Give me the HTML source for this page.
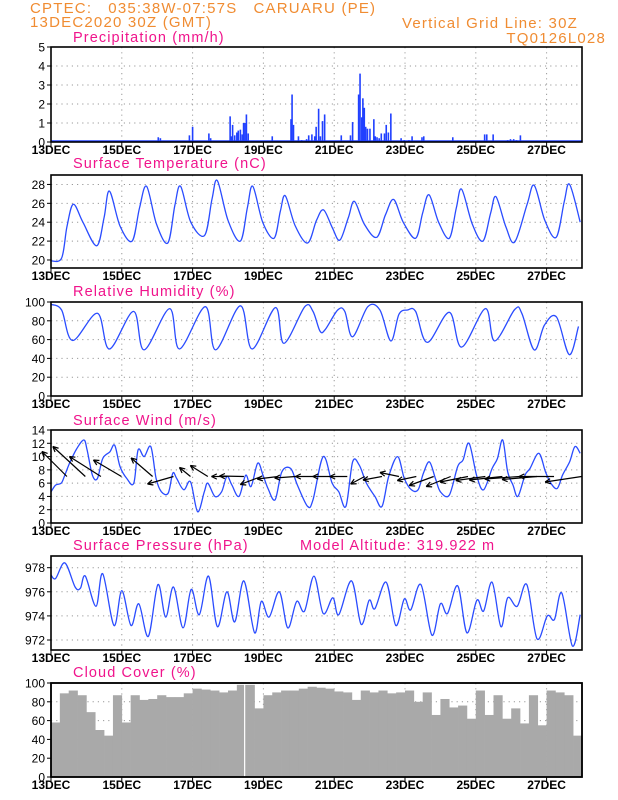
<!DOCTYPE html>
<html><head><meta charset="utf-8">
<style>
html,body{margin:0;padding:0;background:#fff;}
svg{display:block;font-family:"Liberation Sans",sans-serif;}
.hdr{fill:#f08c32;font-size:15px;letter-spacing:1.2px;}
.ttl{fill:#f0148c;font-size:14.5px;letter-spacing:1.1px;}
.tick{fill:#000;font-size:12px;}
</style></head>
<body>
<svg id="chart" width="618" height="800" viewBox="0 0 618 800" xmlns="http://www.w3.org/2000/svg">
<text class="hdr" x="30" y="13" xml:space="preserve">CPTEC:   035:38W-07:57S   CARUARU (PE)</text>
<text class="hdr" x="30" y="27">13DEC2020 30Z (GMT)</text>
<text class="hdr" x="578" y="28" text-anchor="end">Vertical Grid Line: 30Z</text>
<text class="hdr" x="606" y="43" text-anchor="end">TQ0126L028</text>
<text class="ttl" x="73" y="42">Precipitation (mm/h)</text>
<text class="ttl" x="73" y="168">Surface Temperature (nC)</text>
<text class="ttl" x="73" y="296">Relative Humidity (%)</text>
<text class="ttl" x="73" y="425">Surface Wind (m/s)</text>
<text class="ttl" x="73" y="550">Surface Pressure (hPa)</text>
<text class="ttl" x="300" y="550">Model Altitude: 319.922 m</text>
<text class="ttl" x="73" y="677">Cloud Cover (%)</text>
</svg>
<script>
const dayTicks=[0,2,4,6,8,10,12,14];
const dayLabels=["13DEC","15DEC","17DEC","19DEC","21DEC","23DEC","25DEC","27DEC"];

const precipDays=[3.03,3.09,3.91,4.0,4.46,4.51,5.06,5.09,5.13,5.19,5.25,5.29,5.35,5.40,5.44,5.48,5.52,5.57,6.25,6.78,6.81,6.85,6.99,7.08,7.22,7.28,7.37,7.45,7.49,7.56,7.61,7.67,7.73,8.20,8.46,8.52,8.69,8.73,8.78,8.81,8.85,8.89,8.94,9.01,9.12,9.16,9.21,9.27,9.33,9.42,9.47,9.53,9.60,9.89,9.98,10.11,10.20,10.48,10.53,11.35,12.25,12.31,12.49,12.90,12.98,13.07,13.15,13.26];
const precipVals=[0.25,0.2,0.35,0.8,0.45,0.2,1.35,0.3,0.9,0.35,0.5,0.6,0.65,0.4,1.0,1.0,1.45,0.45,0.3,1.2,2.5,0.9,0.3,0.1,0.15,0.35,0.4,0.3,0.8,1.75,0.3,1.1,1.45,0.35,0.35,1.05,2.5,3.6,1.3,2.3,1.8,0.8,0.7,0.7,1.2,0.3,0.25,0.2,0.45,0.45,0.9,0.5,1.5,0.2,0.1,0.1,0.3,0.25,0.3,0.25,0.4,0.4,0.4,0.1,0.15,0.15,0.1,0.35];

const tempDays=[0,0.3,0.45,0.63,0.9,1.29,1.5,1.65,1.95,2.29,2.5,2.7,2.98,3.3,3.5,3.66,3.95,4.34,4.55,4.7,5.0,5.35,5.55,5.7,5.98,6.3,6.48,6.62,6.9,7.25,7.5,7.7,7.95,8.16,8.4,8.57,8.85,9.2,9.45,9.68,9.95,10.3,10.5,10.68,10.95,11.25,11.45,11.6,11.9,12.2,12.42,12.57,12.85,13.1,13.45,13.65,13.95,14.27,14.5,14.65,14.95];
const tempVals=[19.9,20.2,23.5,25.9,24.0,21.5,24.5,27.3,23.6,22.0,25.5,27.8,23.8,21.8,25.8,27.8,24.0,22.6,26.5,28.4,24.2,22.0,25.6,27.8,24.0,22.3,25.2,26.8,23.6,21.8,24.2,25.3,23.4,22.1,24.5,26.2,23.8,22.4,24.8,26.4,24.0,22.3,25.0,26.9,24.0,22.3,25.5,27.5,23.8,22.0,25.0,26.7,23.5,21.9,25.9,27.9,24.2,22.4,26.2,28.0,24.0];

const rhDays=[0,0.3,0.61,1.31,1.65,2.33,2.63,3.35,3.63,4.36,4.65,5.35,5.68,6.34,6.58,7.17,7.4,7.6,7.75,8.1,8.3,8.52,8.95,9.29,9.6,9.83,10.07,10.3,10.63,11.25,11.6,12.27,12.53,13.1,13.3,13.65,13.94,14.28,14.64,14.9];
const rhVals=[97.5,91.5,59,88,50,90,49,93,50,95,49,96,50,94,56,95,90,69,71,91.5,90,63,95,91.5,58.5,87,91.5,90,57,89,52,93,58.5,92,88,49,75.5,84,44,74];

const windDays=[0,0.13,0.29,0.39,0.54,0.73,0.93,1.02,1.17,1.31,1.46,1.66,1.80,1.95,2.14,2.34,2.46,2.63,2.82,2.97,3.12,3.31,3.44,3.55,3.75,3.94,4.14,4.33,4.43,4.63,4.82,4.97,5.11,5.31,5.50,5.65,5.84,5.99,6.13,6.33,6.52,6.77,6.96,7.25,7.40,7.69,7.94,8.13,8.33,8.52,8.71,8.91,9.15,9.35,9.54,9.79,9.98,10.18,10.37,10.52,10.69,10.86,11.0,11.25,11.49,11.64,11.81,12.03,12.22,12.46,12.61,12.76,12.9,13.05,13.19,13.39,13.53,13.78,13.97,14.12,14.3,14.45,14.65,14.8,14.95];
const windVals=[4.7,5.7,6.0,7.2,9.2,11.2,12.5,11,7.2,6.7,9.7,10.7,11.7,8.5,6.7,6.0,11,10,11.5,6.7,4.7,4.5,7.5,6.7,5.0,6.2,1.7,4.7,6.0,4.0,4.7,7.0,5.7,4.0,7.2,5.5,9.0,7.2,5.2,3.5,7.7,8.2,5.7,2.5,3.5,10,6.0,4.7,2.5,9.2,8.7,6.0,4.0,2.5,7.0,10,6.7,5.0,5.0,7.5,9.2,6.7,4.7,4.2,8.5,9.5,12.0,7.0,5.0,8.2,9.7,12.5,7.7,5.7,4.0,7.2,8.2,10.5,7.7,6.0,5.2,7.2,9.2,11.5,10.5];

const arrowDays=[0.45,0.97,1.41,1.99,2.87,3.46,3.94,4.43,4.97,5.45,5.94,6.42,6.91,7.4,7.89,8.37,8.86,9.35,9.83,10.32,10.81,11.29,11.78,12.27,12.75,13.24,13.73,14.21,14.99];
const arrowU=[-5,-6.5,-6.3,-5.6,-4.3,-5.2,-2.2,-3.5,-3.1,-4.9,-4.2,-4.2,-4.2,-3.5,-3.5,-3.5,-2.8,-3.8,-3.8,-3.8,-4.9,-4.9,-5.6,-5.9,-6.6,-7.0,-7.0,-7.0,-7.3];
const arrowV=[5,6.0,4.0,3.3,3.7,-1.5,1.8,2.2,0,0.1,-1.6,-0.5,-0.3,0,0,0,-1.5,-0.7,0.8,-0.8,-1.8,-2.0,-1.1,-0.8,-0.7,-0.5,-0.6,0,-1.1];

const presDays=[0,0.13,0.39,0.68,0.83,0.97,1.27,1.46,1.78,2.0,2.26,2.48,2.75,3.02,3.24,3.46,3.73,3.96,4.19,4.45,4.70,4.97,5.19,5.45,5.75,5.94,6.16,6.45,6.69,6.94,7.16,7.43,7.69,7.96,8.13,8.49,8.76,8.99,9.15,9.47,9.74,9.98,10.16,10.45,10.76,11.0,11.2,11.49,11.75,12.03,12.22,12.46,12.71,12.9,13.17,13.44,13.73,14.02,14.22,14.43,14.73,14.95];
const presVals=[977.4,977.1,978.4,976.4,976.3,977.3,974.8,977.5,973.2,976.1,973.2,975.0,972.3,976.6,973.9,976.4,973.0,976.2,974.1,977.3,973.1,976.0,973.5,976.9,972.6,975.2,973.9,976.0,973.0,975.2,974.4,977.3,974.2,975.5,974.1,976.9,973.3,975.3,974.6,976.8,973.2,975.4,974.5,976.6,972.4,975.0,974.2,976.5,972.6,975.3,974.4,976.8,973.1,975.5,974.8,976.6,972.1,974.0,973.7,975.9,971.5,974.1];

const cloudDays=[0,0.25,0.5,0.75,1.0,1.25,1.5,1.75,2.0,2.25,2.5,2.75,3.0,3.25,3.5,3.75,4.0,4.25,4.5,4.75,5.0,5.25,5.5,5.75,6.0,6.25,6.5,6.75,7.0,7.25,7.5,7.75,8.0,8.25,8.5,8.75,9.0,9.25,9.5,9.75,10.0,10.25,10.5,10.75,11.0,11.25,11.5,11.75,12.0,12.25,12.5,12.75,13.0,13.25,13.5,13.75,14.0,14.25,14.5,14.75];
const cloudVals=[58,89,92,87,69,50,44,87,58,87,82,83,87,85,85,89,94,93,92,90,92,98,98,73,87,90,92,92,94,96,95,94,91,90,82,92,90,92,89,90,92,80,90,66,83,74,76,62,92,66,87,62,73,57,87,55,92,90,87,44];

const svg=document.getElementById('chart');
const NS='http://www.w3.org/2000/svg';
const X0=51,X1=582,NDAYS=15;
function xs(d){return X0+(X1-X0)*d/NDAYS;}
function mk(tag,attrs,parent){const e=document.createElementNS(NS,tag);for(const k in attrs)e.setAttribute(k,attrs[k]);(parent||svg).appendChild(e);return e;}
function smooth(pts){let d='M'+pts[0][0].toFixed(1)+','+pts[0][1].toFixed(1);
 for(let i=0;i<pts.length-1;i++){const p0=pts[Math.max(0,i-1)],p1=pts[i],p2=pts[i+1],p3=pts[Math.min(pts.length-1,i+2)];
  const c1x=p1[0]+(p2[0]-p0[0])/6,c1y=p1[1]+(p2[1]-p0[1])/6,c2x=p2[0]-(p3[0]-p1[0])/6,c2y=p2[1]-(p3[1]-p1[1])/6;
  d+=' C'+c1x.toFixed(1)+','+c1y.toFixed(1)+' '+c2x.toFixed(1)+','+c2y.toFixed(1)+' '+p2[0].toFixed(1)+','+p2[1].toFixed(1);}
 return d;}

function panel(name,top,bot,ymin,ymax,ticks){
 const ys=v=>bot-(bot-top)*(v-ymin)/(ymax-ymin);
 const g=mk('g',{});
 
 
 ticks.forEach(t=>{
  if(t>ymin&&t<ymax){const gl=mk('line',{x1:X0,x2:X1,y1:ys(t),y2:ys(t),stroke:'#999','stroke-width':1,'stroke-dasharray':'1.2,4'},g);
   
   }
  const tl=mk('text',{x:X0-6,y:ys(t)+4.5,'text-anchor':'end',class:'tick'},g);tl.textContent=t;
  
  
  mk('line',{x1:X0-4,x2:X0,y1:ys(t),y2:ys(t),stroke:'#000','stroke-width':1},g);
 });
 dayTicks.forEach((d,i)=>{
  if(d>0){const vl=mk('line',{x1:xs(d),x2:xs(d),y1:top,y2:bot,stroke:'#999','stroke-width':1,'stroke-dasharray':'1.2,4'},g);
   
   }
  mk('line',{x1:xs(d),x2:xs(d),y1:bot,y2:bot+4,stroke:'#000','stroke-width':1},g);
  const lb=mk('text',{x:xs(d),y:bot+12,'text-anchor':'middle',class:'tick','font-weight':'bold','font-size':'11.5'},g);lb.textContent=dayLabels[i];
  
  
 });
 const fr=mk('rect',{x:X0,y:top,width:X1-X0,height:bot-top,fill:'none',stroke:'#000','stroke-width':1.6});
 
 
 return {ys,g};
}
function line(name,P,days,vals,color){
 const pts=days.map((d,i)=>[xs(d),P.ys(vals[i])]);
 const p=mk('path',{d:smooth(pts),fill:'none',stroke:color,'stroke-width':1.3},P.g);
 
 
}

const PP=panel('precip',47,142,0,5,[0,1,2,3,4,5]);
precipDays.forEach((d,i)=>{
 const b=mk('rect',{x:xs(d)-0.8,y:PP.ys(precipVals[i]),width:1.6,height:PP.ys(0)-PP.ys(precipVals[i]),fill:'#2040ff'},PP.g);
 
 
});
const pb=mk('line',{x1:X0,x2:X1,y1:141,y2:141,stroke:'#2040ff','stroke-width':1.5},PP.g);



const TP=panel('temperature',175,268,19.15,29,[20,22,24,26,28]);
line('temperature-line',TP,tempDays,tempVals,'#2a4cff');

const RP=panel('humidity',302,396,0,100,[0,20,40,60,80,100]);
line('humidity-line',RP,rhDays,rhVals,'#2a4cff');

const WP=panel('wind',430,523,0,14,[0,2,4,6,8,10,12,14]);
line('wind-speed-line',WP,windDays,windVals,'#2a4cff');
const AS=5;
arrowDays.forEach((d,i)=>{
 const tx=xs(d),ty=WP.ys(7);
 let hx=tx+arrowU[i]*AS,hy=ty-arrowV[i]*AS;
 const a=mk('g',{},WP.g);
 
 
 mk('line',{x1:tx,y1:ty,x2:hx,y2:hy,stroke:'#000','stroke-width':1.2},a);
 const ang=Math.atan2(hy-ty,hx-tx),L=6;
 [0.45,-0.45].forEach(o=>{mk('line',{x1:hx,y1:hy,x2:hx-L*Math.cos(ang+o),y2:hy-L*Math.sin(ang+o),stroke:'#000','stroke-width':1.2},a);});
});

const SP=panel('pressure',556,650,971.17,978.97,[972,974,976,978]);
line('pressure-line',SP,presDays,presVals,'#2a4cff');

const CP=panel('cloud',683,777,0,100,[0,20,40,60,80,100]);
cloudDays.forEach((d,i)=>{
 const x1=xs(d),x2=xs(Math.min(NDAYS,d+0.25));
 const b=mk('rect',{x:x1,y:CP.ys(cloudVals[i]),width:x2-x1+0.3,height:CP.ys(0)-CP.ys(cloudVals[i]),fill:'#a9a9a9'},CP.g);
 
 
});
const gap=mk('line',{x1:xs(5.47),x2:xs(5.47),y1:683,y2:777,stroke:'#fff','stroke-width':1.2},CP.g);


const cf=mk('rect',{x:X0,y:683,width:X1-X0,height:94,fill:'none',stroke:'#000','stroke-width':1.6});


</script>
</body></html>
